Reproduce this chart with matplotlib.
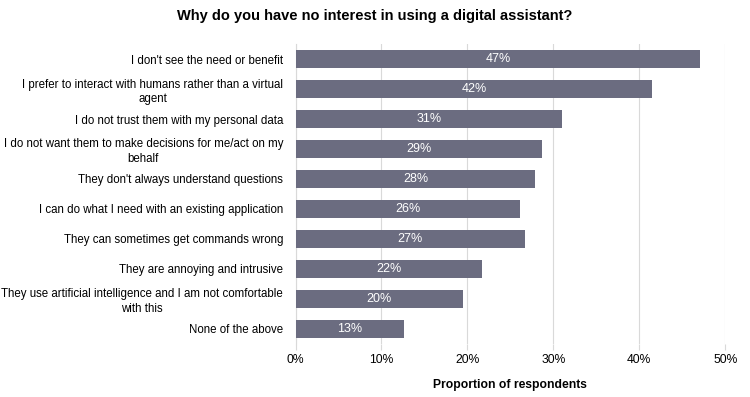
import matplotlib.pyplot as plt

plt.rcParams['font.family'] = ['Liberation Sans', 'DejaVu Sans']

categories = [
    "I don't see the need or benefit",
    "I prefer to interact with humans rather than a virtual\nagent",
    "I do not trust them with my personal data",
    "I do not want them to make decisions for me/act on my\nbehalf",
    "They don't always understand questions",
    "I can do what I need with an existing application",
    "They can sometimes get commands wrong",
    "They are annoying and intrusive",
    "They use artificial intelligence and I am not comfortable\nwith this",
    "None of the above",
]
values = [47.1, 41.5, 31.0, 28.7, 27.9, 26.1, 26.7, 21.7, 19.5, 12.6]
labels = ["47%", "42%", "31%", "29%", "28%", "26%", "27%", "22%", "20%", "13%"]
xticks = [0, 10, 20, 30, 40, 50]

fig = plt.figure(figsize=(7.5, 3.97), dpi=100)
ax = fig.add_axes([0.394, 0.134, 0.573, 0.755])

ypos = list(range(len(categories)))
ax.barh(ypos, values, height=0.59, color='#6b6c80', zorder=2)
for y, v, lab in zip(ypos, values, labels):
    ax.text(v / 2, y, lab, color='white', ha='center', va='center', fontsize=9, zorder=3)

ax.set_ylim(len(categories) - 0.5, -0.5)
ax.set_xlim(0, 50)
ax.set_yticks(ypos)
ax.set_yticklabels(categories, fontsize=8.3, multialignment='center', linespacing=1.3)
ax.set_xticks(xticks)
ax.set_xticklabels([f"{t}%" for t in xticks], fontsize=8.7)
ax.tick_params(axis='y', length=0, pad=9)
ax.tick_params(axis='x', length=4, color='#d9d9d9', pad=3)
ax.grid(axis='x', color='#d9d9d9', linewidth=0.8, zorder=0)
for s in ['top', 'right', 'bottom']:
    ax.spines[s].set_visible(False)
ax.spines['left'].set_color('#d9d9d9')
ax.spines['left'].set_zorder(1)

ax.set_xlabel('Proportion of respondents', fontsize=8.7, fontweight='bold', labelpad=10)
fig.suptitle('Why do you have no interest in using a digital assistant?',
             fontsize=10.5, fontweight='bold', x=0.5, y=0.978)

fig.savefig('out.png', dpi=100)
